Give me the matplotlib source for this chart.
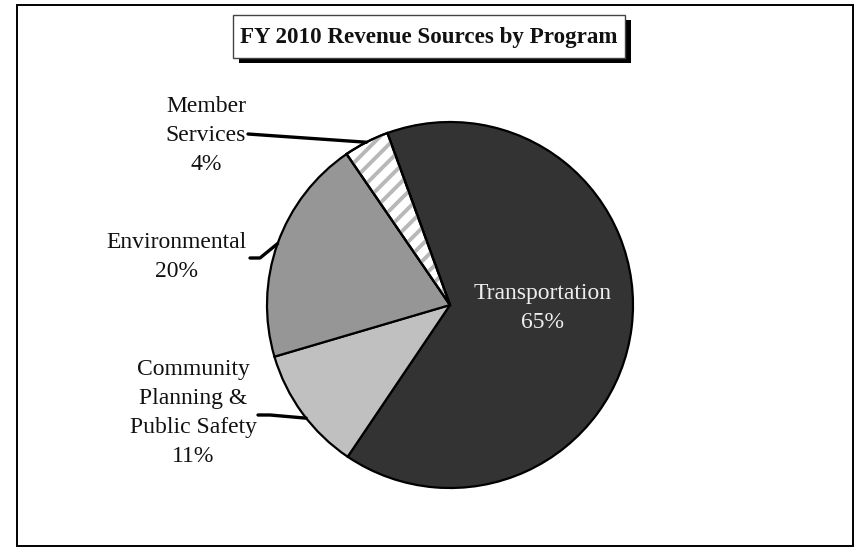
import numpy as np
import matplotlib
matplotlib.use("Agg")
import matplotlib.pyplot as plt
from matplotlib.patches import Rectangle, Wedge

# revenue share by program, in drawing order (clockwise from the top)
programs = ["Transportation", "Community\nPlanning &\nPublic Safety", "Environmental", "Member\nServices"]
shares = [65, 11, 20, 4]
fills = ["#333333", "#c0c0c0", "#969696", "white"]
title = "FY 2010 Revenue Sources by Program"

W, H = 858, 547
plt.rcParams['font.family'] = ['Liberation Serif', 'DejaVu Serif']
plt.rcParams['hatch.linewidth'] = 2.8
plt.rcParams['hatch.color'] = '#b8b8b8'

fig = plt.figure(figsize=(W / 100, H / 100), dpi=100)
ax = fig.add_axes([0, 0, 1, 1])

def py(y):
    # pixel rows measured from the top
    return H - y

cx, cy, R = 450, py(305), 183
wedges, _ = ax.pie(shares, colors=fills, startangle=110, counterclock=False,
                   center=(cx, cy), radius=R,
                   wedgeprops=dict(edgecolor='black', linewidth=1.6))
ax.set_xlim(0, W)
ax.set_ylim(0, H)
ax.set_aspect('auto')
ax.axis('off')

# striped fill for the small slice
ms = wedges[3]
ax.add_patch(Wedge((cx, cy), R, ms.theta1, ms.theta2, facecolor='none',
                   hatch='//', linewidth=0, zorder=1.5))
ax.add_patch(Wedge((cx, cy), R, ms.theta1, ms.theta2, facecolor='none',
                   edgecolor='black', linewidth=1.6, zorder=2))

def rim(w, shift=0.0):
    a = np.deg2rad((w.theta1 + w.theta2) / 2 + shift)
    return cx + R * np.cos(a), cy + R * np.sin(a)

# outside labels: (wedge index, text center x, first line y, leader start points, angle shift)
outside = [
    (3, 206, 107, [(248, 134), (262, 135)], 0.0),
    (2, 176, 243, [(250, 258), (260, 258)], 0.0),
    (1, 193, 370, [(258, 415), (270, 415)], 2.0),
]
step = 28.7
for i, tx, ty, pts, shift in outside:
    lines = programs[i].split("\n") + [f"{shares[i]}%"]
    for k, s in enumerate(lines):
        ax.text(tx, py(ty + k * step), s, ha='center', va='center', fontsize=17, color='#111111')
    ex, ey = rim(wedges[i], shift)
    xs = [p[0] for p in pts] + [ex]
    ys = [py(p[1]) for p in pts] + [ey]
    ax.plot(xs, ys, color='black', linewidth=2.4, solid_capstyle='round', zorder=3)

# inside label for the large slice
ax.text(543, py(294), programs[0], ha='center', va='center', fontsize=17, color='#eeeeee')
ax.text(543, py(323), f"{shares[0]}%", ha='center', va='center', fontsize=17, color='#eeeeee')

# title box with drop shadow
ax.add_patch(Rectangle((239, py(63)), 392, 43, facecolor='black', edgecolor='none', zorder=4))
ax.add_patch(Rectangle((233, py(58)), 392, 43, facecolor='white', edgecolor='#444444',
                       linewidth=1.0, zorder=5))
ax.text(429, py(37), title, ha='center', va='center', fontsize=16.6, fontweight='bold',
        color='#111111', zorder=6)

# outer frame
ax.add_patch(Rectangle((17, py(546)), 836, 541, facecolor='none', edgecolor='black',
                       linewidth=1.4, zorder=6))

fig.savefig("out.png", dpi=100)
